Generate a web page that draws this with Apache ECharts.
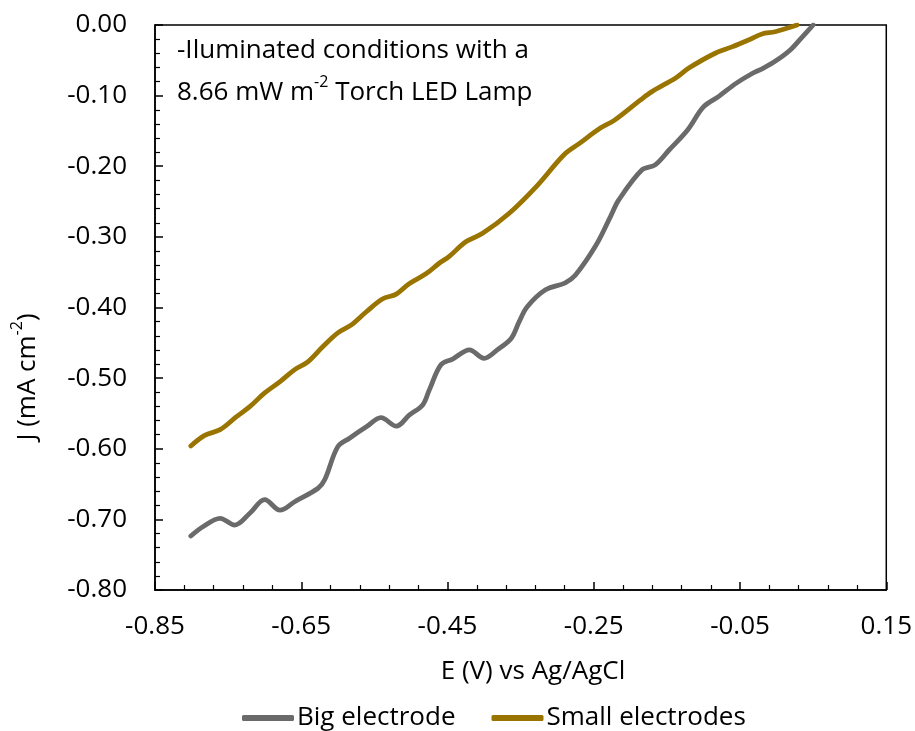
<!DOCTYPE html>
<html>
<head>
<meta charset="utf-8">
<script src="https://cdn.jsdelivr.net/npm/echarts@6/dist/echarts.min.js"></script>
<style>
html,body{margin:0;padding:0;background:#fff;}
#chart{width:915px;height:731px;}
</style>
</head>
<body>
<div id="chart"></div>
<script>
// ---- Data ----
const seriesNames = ['Big electrode', 'Small electrodes'];

const bigE = [-0.801,-0.784,-0.761,-0.741,-0.720,-0.700,-0.679,-0.659,-0.627,-0.618,-0.600,-0.584,-0.561,-0.541,-0.520,-0.502,-0.484,-0.475,-0.459,-0.443,-0.420,-0.400,-0.382,-0.363,-0.352,-0.341,-0.316,-0.289,-0.275,-0.247,-0.227,-0.216,-0.184,-0.166,-0.147,-0.122,-0.100,-0.079,-0.056,-0.034,-0.018,0.000,0.019,0.035,0.050];
const bigJ = [-0.7235,-0.710,-0.6985,-0.708,-0.691,-0.672,-0.687,-0.675,-0.656,-0.644,-0.597,-0.585,-0.569,-0.556,-0.568,-0.552,-0.538,-0.517,-0.481,-0.473,-0.460,-0.472,-0.460,-0.444,-0.420,-0.399,-0.375,-0.365,-0.354,-0.312,-0.271,-0.248,-0.205,-0.198,-0.177,-0.149,-0.116,-0.101,-0.083,-0.069,-0.061,-0.050,-0.035,-0.017,0.000];

const smallE = [-0.801,-0.782,-0.761,-0.739,-0.720,-0.700,-0.679,-0.659,-0.641,-0.620,-0.600,-0.582,-0.561,-0.539,-0.520,-0.502,-0.479,-0.461,-0.448,-0.425,-0.402,-0.366,-0.327,-0.291,-0.270,-0.241,-0.222,-0.186,-0.170,-0.138,-0.120,-0.084,-0.061,-0.038,-0.020,-0.002,0.028];
const smallJ = [-0.596,-0.581,-0.573,-0.555,-0.540,-0.521,-0.505,-0.488,-0.477,-0.455,-0.436,-0.425,-0.406,-0.388,-0.381,-0.366,-0.352,-0.337,-0.328,-0.307,-0.295,-0.267,-0.227,-0.184,-0.168,-0.146,-0.135,-0.106,-0.094,-0.075,-0.061,-0.040,-0.031,-0.021,-0.0127,-0.0095,0.000];

const xTicks = [-0.85,-0.65,-0.45,-0.25,-0.05,0.15];
const yTicks = [0,-0.1,-0.2,-0.3,-0.4,-0.5,-0.6,-0.7,-0.8];

const colors = ['#6a6a6a', '#9a7400'];
const FONT = 'Open Sans';
const FS = 26;

function pairs(xs, ys){ return xs.map((x,i)=>[x, ys[i]]); }

const chart = echarts.init(document.getElementById('chart'), null, {renderer:'canvas'});
chart.setOption({
  animation:false,
  backgroundColor:'#fff',
  textStyle:{fontFamily:FONT},
  grid:{left:155, right:27, top:25, bottom:141, show:true, borderColor:'#000', borderWidth:1.5, containLabel:false},
  xAxis:{
    type:'value', min:xTicks[0], max:xTicks[xTicks.length-1], interval:0.2,
    axisLine:{show:true, onZero:false, lineStyle:{color:'#000', width:1.5}},
    axisTick:{show:true, inside:true, length:8, lineStyle:{color:'#000', width:1.5}},
    minorTick:{show:true, splitNumber:5, length:5, lineStyle:{color:'#000', width:1.2}},
    splitLine:{show:false},
    axisLabel:{margin:24, color:'#000', fontSize:FS, fontFamily:FONT, formatter:v=>v.toFixed(2)}
  },
  yAxis:{
    type:'value', min:yTicks[yTicks.length-1], max:yTicks[0], interval:0.1,
    axisLine:{show:true, onZero:false, lineStyle:{color:'#000', width:1.5}},
    axisTick:{show:true, inside:true, length:8, lineStyle:{color:'#000', width:1.5}},
    minorTick:{show:true, splitNumber:5, length:5, lineStyle:{color:'#000', width:1.2}},
    splitLine:{show:false},
    axisLabel:{margin:28, color:'#000', fontSize:FS, fontFamily:FONT, formatter:v=>v.toFixed(2)}
  },
  legend:{
    left:237, top:700, itemWidth:52, itemHeight:6, itemGap:36, icon:'roundRect',
    textStyle:{fontSize:FS, color:'#000', fontFamily:FONT, padding:[0,0,0,-2]},
    data:seriesNames
  },
  series:[
    {name:seriesNames[0], type:'line', data:pairs(bigE,bigJ), smooth:0.35, symbol:'none',
     lineStyle:{color:colors[0], width:4.8, cap:'round', join:'round'}, itemStyle:{color:colors[0]}},
    {name:seriesNames[1], type:'line', data:pairs(smallE,smallJ), smooth:0.35, symbol:'none',
     lineStyle:{color:colors[1], width:4.8, cap:'round', join:'round'}, itemStyle:{color:colors[1]}}
  ],
  graphic:[
    {type:'text', left:177, top:38, style:{
      text:'-Iluminated conditions with a', fontSize:FS, fontFamily:FONT, fill:'#000'}},
    {type:'text', left:177, top:74, style:{
      text:'{n|8.66 mW m}{s|-2}{n| Torch LED Lamp}', fontFamily:FONT, fill:'#000',
      rich:{n:{fontSize:FS, fontFamily:FONT, lineHeight:32, verticalAlign:'bottom'},
            s:{fontSize:16, fontFamily:FONT, lineHeight:32, verticalAlign:'top'}}}},
    {type:'text', x:533, y:672, style:{
      text:'E (V) vs Ag/AgCl', fontSize:FS, fontFamily:FONT, fill:'#000', align:'center', verticalAlign:'middle'}},
    {type:'text', x:25, y:377, rotation:Math.PI/2, style:{
      text:'{n|J (mA cm}{s|-2}{n|)}', fontFamily:FONT, fill:'#000', align:'center', verticalAlign:'middle',
      rich:{n:{fontSize:FS, fontFamily:FONT, lineHeight:32, verticalAlign:'bottom'},
            s:{fontSize:16, fontFamily:FONT, lineHeight:32, verticalAlign:'top'}}}}
  ]
});
</script>
</body>
</html>
